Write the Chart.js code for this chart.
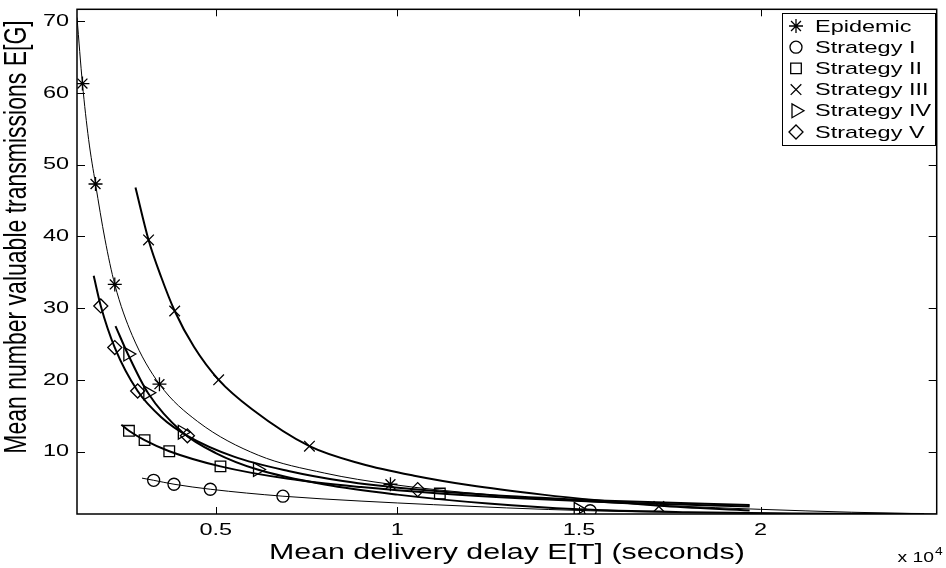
<!DOCTYPE html>
<html>
<head>
<meta charset="utf-8">
<script src="https://cdn.jsdelivr.net/npm/chart.js@4.4.1/dist/chart.umd.min.js"></script>
<style>
  html, body { margin: 0; padding: 0; background: #fff; }
  #wrap { width: 946px; height: 568px; }
</style>
</head>
<body>
<div id="wrap"><canvas id="chart" width="946" height="568"></canvas></div>
<script>
// delay values are in units of 10^4 seconds (see the "x 10^4" note)
const xTicks = [0.5, 1, 1.5, 2];
const yTicks = [10, 20, 30, 40, 50, 60, 70];
const seriesNames = ['Epidemic', 'Strategy I', 'Strategy II', 'Strategy III', 'Strategy IV', 'Strategy V'];

// fitted curves [delay, transmissions]
const epidemicCurve = [[0.118, 70.5], [0.133, 61.3], [0.15, 53.5], [0.169, 47.3], [0.195, 39.6], [0.222, 33.3], [0.27, 26.2], [0.345, 19.4], [0.45, 14.2], [0.617, 9.5], [0.8, 7.0], [0.981, 5.45], [1.25, 4.0], [1.5, 3.1], [1.75, 2.45], [2.0, 1.95], [2.25, 1.55], [2.485, 1.3]];
const strategy1Curve = [[0.297, 6.3], [0.329, 6.0], [0.385, 5.45], [0.485, 4.75], [0.685, 3.78], [0.9, 3.1], [1.1, 2.6], [1.3, 2.15], [1.531, 1.75], [1.8, 1.5], [2.1, 1.38], [2.45, 1.3]];
const strategy2Curve = [[0.24, 13.75], [0.261, 12.9], [0.304, 11.6], [0.372, 10.05], [0.513, 7.94], [0.7, 6.2], [0.9, 5.05], [1.117, 4.15], [1.35, 3.45], [1.6, 2.9], [1.97, 2.35]];
const strategy3Curve = [[0.279, 46.8], [0.315, 39.5], [0.35, 34.3], [0.387, 29.6], [0.44, 24.6], [0.508, 20.0], [0.6, 15.9], [0.758, 10.75], [0.9, 8.3], [1.05, 6.6], [1.2, 5.3], [1.4, 4.0], [1.55, 3.2], [1.72, 2.45], [1.97, 1.8]];
const strategy4Curve = [[0.224, 27.5], [0.258, 23.6], [0.313, 18.2], [0.408, 12.7], [0.5, 9.8], [0.615, 7.5], [0.8, 5.4], [1.0, 4.0], [1.25, 2.75], [1.498, 1.95], [1.8, 1.55], [2.1, 1.38], [2.45, 1.3]];
const strategy5Curve = [[0.164, 34.5], [0.1835, 30.3], [0.222, 24.5], [0.285, 18.45], [0.35, 14.8], [0.422, 12.2], [0.55, 9.3], [0.7, 7.3], [0.85, 5.9], [1.056, 4.7], [1.3, 3.8], [1.6, 3.1], [1.97, 2.55]];

// measured points
const epidemicMarks = [[0.133, 61.3], [0.169, 47.3], [0.222, 33.3], [0.345, 19.4], [0.981, 5.45]];
const strategy1Marks = [[0.329, 6.0], [0.385, 5.45], [0.485, 4.75], [0.685, 3.78], [1.531, 1.75]];
const strategy2Marks = [[0.261, 12.9], [0.304, 11.6], [0.372, 10.05], [0.513, 7.94], [1.117, 4.15]];
const strategy3Marks = [[0.315, 39.5], [0.387, 29.6], [0.508, 20.0], [0.758, 10.75], [1.72, 2.35]];
const strategy4Marks = [[0.258, 23.6], [0.313, 18.2], [0.408, 12.7], [0.615, 7.5], [1.498, 1.95]];
const strategy5Marks = [[0.1835, 30.3], [0.222, 24.5], [0.285, 18.45], [0.422, 12.2], [1.056, 4.7]];

const curves = [epidemicCurve, strategy1Curve, strategy2Curve, strategy3Curve, strategy4Curve, strategy5Curve];
const marks = [epidemicMarks, strategy1Marks, strategy2Marks, strategy3Marks, strategy4Marks, strategy5Marks];

const markers = [
  { pointStyle: 'star', radius: 7, rotation: 0, borderWidth: 1.3 },
  { pointStyle: 'circle', radius: 6, rotation: 0, borderWidth: 1.3 },
  { pointStyle: 'rect', radius: 7.5, rotation: 0, borderWidth: 1.3 },
  { pointStyle: 'crossRot', radius: 7.5, rotation: 0, borderWidth: 1.3 },
  { pointStyle: 'triangle', radius: 8, rotation: 90, borderWidth: 1.3 },
  { pointStyle: 'rectRot', radius: 7, rotation: 0, borderWidth: 1.3 }
];
const lineWidths = [1, 1, 2, 2, 2, 2];

const SX = 1.38; // the figure is stretched sideways
const FONT = '"Liberation Sans", Arial, Helvetica, sans-serif';

function toXY(arr) { return arr.map(p => ({ x: p[0], y: p[1] })); }

const datasets = [];
seriesNames.forEach((name, i) => {
  datasets.push({
    label: name + ' fit',
    data: toXY(curves[i]),
    showLine: true,
    borderColor: '#000',
    borderWidth: lineWidths[i],
    pointRadius: 0,
    cubicInterpolationMode: 'monotone'
  });
  datasets.push({
    label: name,
    data: toXY(marks[i]),
    showLine: false,
    borderColor: '#000',
    backgroundColor: 'rgba(0,0,0,0)',
    pointStyle: markers[i].pointStyle,
    pointRadius: markers[i].radius,
    pointRotation: markers[i].rotation,
    pointBorderWidth: markers[i].borderWidth
  });
});

function wideText(ctx, str, x, y, align, size) {
  ctx.save();
  ctx.translate(x, y);
  ctx.scale(SX, 1);
  ctx.font = size + 'px ' + FONT;
  ctx.textAlign = align;
  ctx.fillText(str, 0, 0);
  ctx.restore();
}

const axesDecor = {
  id: 'axesDecor',
  afterDatasetsDraw(chart) {
    const { ctx, chartArea: a, scales: { x, y } } = chart;
    ctx.save();
    ctx.strokeStyle = '#000';
    ctx.fillStyle = '#000';
    ctx.lineWidth = 1;
    ctx.beginPath();
    x.ticks.forEach(t => {
      const px = Math.round(x.getPixelForValue(t.value)) + 0.5;
      ctx.moveTo(px, a.bottom); ctx.lineTo(px, a.bottom - 7);
      ctx.moveTo(px, a.top); ctx.lineTo(px, a.top + 7);
    });
    y.ticks.forEach(t => {
      const py = Math.round(y.getPixelForValue(t.value)) + 0.5;
      ctx.moveTo(a.left, py); ctx.lineTo(a.left + 8, py);
      ctx.moveTo(a.right, py); ctx.lineTo(a.right - 8, py);
    });
    ctx.stroke();
    ctx.lineWidth = 1.5;
    ctx.strokeRect(a.left, a.top, a.right - a.left, a.bottom - a.top);

    // tick labels
    ctx.textBaseline = 'middle';
    x.ticks.forEach(t => {
      wideText(ctx, String(t.value), x.getPixelForValue(t.value), 530, 'center', 17);
    });
    y.ticks.forEach(t => {
      wideText(ctx, String(t.value), 69, y.getPixelForValue(t.value), 'right', 17);
    });

    // axis titles
    ctx.textBaseline = 'alphabetic';
    wideText(ctx, 'Mean delivery delay E[T] (seconds)', (a.left + a.right) / 2, 559, 'center', 22);
    wideText(ctx, 'x 10', 934, 562, 'right', 14);
    wideText(ctx, '4', 935, 555, 'left', 10);

    ctx.save();
    ctx.translate(26, 237);
    ctx.scale(SX, 1);
    ctx.rotate(-Math.PI / 2);
    ctx.font = '23px ' + FONT;
    ctx.textAlign = 'center';
    ctx.fillText('Mean number valuable transmissions E[G]', 0, 0);
    ctx.restore();

    // legend
    ctx.fillStyle = '#fff';
    ctx.fillRect(782, 13, 153, 132);
    ctx.lineWidth = 1;
    ctx.strokeRect(782.5, 13.5, 153, 132);
    ctx.textBaseline = 'middle';
    seriesNames.forEach((name, i) => {
      const cy = 26 + i * 21.2;
      ctx.save();
      ctx.strokeStyle = '#000';
      ctx.fillStyle = 'rgba(0,0,0,0)';
      ctx.lineWidth = markers[i].borderWidth;
      Chart.helpers.drawPoint(ctx, markers[i], 796, cy);
      ctx.restore();
      ctx.fillStyle = '#000';
      wideText(ctx, name, 815, cy + 1, 'left', 17);
    });
    ctx.restore();
  }
};

new Chart(document.getElementById('chart'), {
  type: 'scatter',
  data: { datasets },
  options: {
    responsive: false,
    animation: false,
    layout: { padding: { top: 6, right: 1, left: 0, bottom: 0 } },
    plugins: { legend: { display: false }, tooltip: { enabled: false } },
    scales: {
      x: {
        type: 'linear',
        min: 0.118,
        max: 2.485,
        grid: { display: false },
        border: { display: false },
        ticks: { display: false },
        afterBuildTicks: s => { s.ticks = xTicks.map(v => ({ value: v })); },
        afterFit: s => { s.height = 54; }
      },
      y: {
        type: 'linear',
        min: 1.3,
        max: 71.65,
        grid: { display: false },
        border: { display: false },
        ticks: { display: false },
        afterBuildTicks: s => { s.ticks = yTicks.map(v => ({ value: v })); },
        afterFit: s => { s.width = 77; }
      }
    }
  },
  plugins: [axesDecor]
});
</script>
</body>
</html>
